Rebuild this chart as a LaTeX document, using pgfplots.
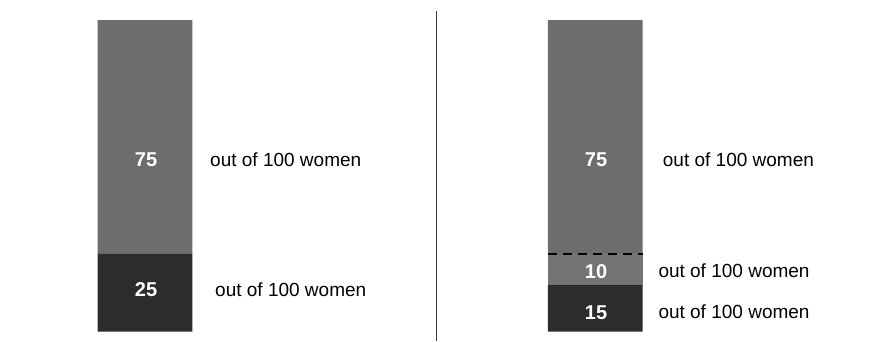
\documentclass[border=0pt]{standalone}
\usepackage{pgfplots}
\pgfplotsset{compat=1.18}
\usepackage{fontspec}
\setmainfont{Liberation Sans}
\definecolor{topgray}{HTML}{6D6D6D}
\definecolor{midgray}{HTML}{747474}
\definecolor{darkgray2}{HTML}{2C2C2C}
\definecolor{divider}{HTML}{404040}
\begin{document}
\begin{tikzpicture}
\begin{axis}[
  width=872bp, height=341bp, scale only axis,
  xmin=0, xmax=872, ymin=-2.98, ymax=106.42,
  hide axis, clip=false,
  ybar stacked, bar width=94.7,
]
\path (rel axis cs:0,0) rectangle (rel axis cs:1,1);
\addplot[fill=darkgray2, draw=none] coordinates {(145.0,25) (595.3,15)};
\addplot[fill=midgray, draw=none] coordinates {(145.0,0) (595.3,10)};
\addplot[fill=topgray, draw=none] coordinates {(145.0,75) (595.3,75)};
\end{axis}
\begin{axis}[
  width=872bp, height=341bp, scale only axis,
  xmin=0, xmax=872, ymin=-2.98, ymax=106.42,
  hide axis, clip=false,
]
\addplot[black, line width=2.3bp, dash pattern=on 9bp off 6bp] coordinates {(548,25) (642.7,25)};
\addplot[divider, line width=1.4bp] coordinates {(436.7,102.9) (436.7,-2.98)};
\begin{scope}[every node/.style={font=\fontsize{20bp}{24bp}\selectfont\bfseries, text=white, anchor=base, inner sep=0pt}]
\node at (axis cs:146,52.94) {75};
\node at (axis cs:146,11.29) {25};
\node at (axis cs:596,52.94) {75};
\node at (axis cs:596,17.23) {10};
\node at (axis cs:596,4.07) {15};
\end{scope}
\begin{scope}[every node/.style={font=\fontsize{19bp}{23bp}\selectfont, text=black, anchor=base west, inner sep=0pt}]
\node at (axis cs:210,52.94) {out of 100 women};
\node at (axis cs:215,11.29) {out of 100 women};
\node at (axis cs:662.7,52.94) {out of 100 women};
\node at (axis cs:658.3,17.5) {out of 100 women};
\node at (axis cs:658.3,4.3) {out of 100 women};
\end{scope}
\end{axis}
\end{tikzpicture}
\end{document}
